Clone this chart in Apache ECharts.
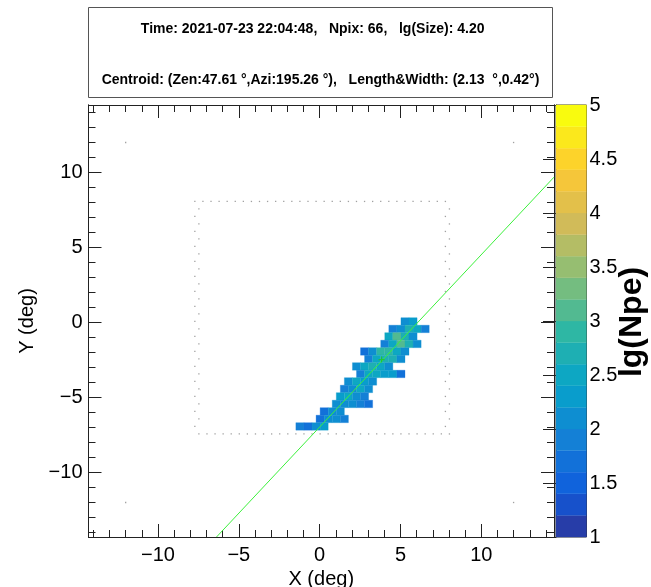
<!DOCTYPE html>
<html><head><meta charset="utf-8">
<script src="https://cdn.jsdelivr.net/npm/echarts@6/dist/echarts.min.js"></script>
<style>html,body{margin:0;padding:0;background:#fff}#c{width:651px;height:587px}</style>
</head><body><div id="c"></div>
<script>
// ---------------- data ----------------
const titleLine1 = 'Time: 2021-07-23 22:04:48,   Npix: 66,   lg(Size): 4.20';
const titleLine2 = 'Centroid: (Zen:47.61 \u00B0,Azi:195.26 \u00B0),   Length&Width: (2.13  \u00B0,0.42\u00B0)';
const xName = 'X (deg)';
const yName = 'Y (deg)';
const zName = 'lg(Npe)';

const xRange = [-14.3, 14.5];
const yRange = [-14.3, 14.5];
const majorTicks = [-10, -5, 0, 5, 10];
const minorTicks = [-14,-13,-12,-11,-10,-9,-8,-7,-6,-5,-4,-3,-2,-1,0,1,2,3,4,5,6,7,8,9,10,11,12,13,14];
const zRange = [1, 5];
const cbLevels = [1.0,1.2,1.4,1.6,1.8,2.0,2.2,2.4,2.6,2.8,3.0,3.2,3.4,3.6,3.8,4.0,4.2,4.4,4.6,4.8];
const cellSize = 0.5;

// fired pixels (deg) and lg(Npe)
const cellX = [
  5.28, 5.78,
  4.53, 5.03, 5.53, 6.03, 6.53,
  4.28, 4.78, 5.28, 5.78,
  4.03, 4.53, 5.03, 5.53, 6.03,
  2.78, 3.28, 3.78, 4.28, 4.78, 5.28,
  3.03, 3.53, 4.03, 4.53, 5.03,
  2.28, 2.78, 3.28, 3.78, 4.28,
  2.53, 3.03, 3.53, 4.03, 4.53, 5.03,
  1.78, 2.28, 2.78, 3.28,
  1.53, 2.03, 2.53, 3.03,
  1.28, 1.78, 2.28, 2.78,
  1.03, 1.53, 2.03, 2.53, 3.03,
  0.28, 0.78, 1.28,
  0.03, 0.53, 1.03, 1.53,
  -1.22, -0.72, -0.22, 0.28
];
const cellY = [
  0.07, 0.07,
  -0.43, -0.43, -0.43, -0.43, -0.43,
  -0.93, -0.93, -0.93, -0.93,
  -1.43, -1.43, -1.43, -1.43, -1.43,
  -1.93, -1.93, -1.93, -1.93, -1.93, -1.93,
  -2.43, -2.43, -2.43, -2.43, -2.43,
  -2.93, -2.93, -2.93, -2.93, -2.93,
  -3.43, -3.43, -3.43, -3.43, -3.43, -3.43,
  -3.93, -3.93, -3.93, -3.93,
  -4.43, -4.43, -4.43, -4.43,
  -4.93, -4.93, -4.93, -4.93,
  -5.43, -5.43, -5.43, -5.43, -5.43,
  -5.93, -5.93, -5.93,
  -6.43, -6.43, -6.43, -6.43,
  -6.93, -6.93, -6.93, -6.93
];
const cellV = [
  2.1, 2.3,
  1.9, 2.1, 2.7, 2.5, 1.9,
  2.5, 3.1, 2.7, 2.1,
  1.9, 2.5, 3.1, 2.7, 2.1,
  1.7, 2.1, 2.9, 2.9, 2.5, 2.1,
  1.9, 2.5, 2.7, 2.7, 2.1,
  2.1, 2.5, 2.7, 2.5, 2.1,
  1.9, 2.5, 2.5, 2.3, 2.3, 1.7,
  2.1, 2.5, 2.3, 2.1,
  1.9, 2.1, 2.5, 2.1,
  2.3, 2.5, 2.1, 1.9,
  2.1, 2.1, 2.1, 1.9, 1.7,
  1.7, 2.1, 2.1,
  1.7, 2.1, 2.1, 1.9,
  1.9, 1.7, 2.1, 2.3
];

// camera outline (empty edge pixels)
const edgeY = [8.07,7.57,7.07,6.57,6.07,5.57,5.07,4.57,4.07,3.57,3.07,2.57,2.07,1.57,1.07,0.57,
  0.07,-0.43,-0.93,-1.43,-1.93,-2.43,-2.93,-3.43,-3.93,-4.43,-4.93,-5.43,-5.93,-6.43,-6.93,-7.43];
const edgeLeftX = [-7.72,-7.47,-7.72,-7.47,-7.72,-7.47,-7.72,-7.47,-7.72,-7.47,-7.72,-7.47,-7.72,-7.47,-7.72,-7.47,
  -7.72,-7.47,-7.72,-7.47,-7.72,-7.47,-7.72,-7.47,-7.72,-7.47,-7.72,-7.47,-7.72,-7.47,-7.72,-7.47];
const edgeRightX = [7.78,8.03,7.78,8.03,7.78,8.03,7.78,8.03,7.78,8.03,7.78,8.03,7.78,8.03,7.78,8.03,
  7.78,8.03,7.78,8.03,7.78,8.03,7.78,8.03,7.78,8.03,7.78,8.03,7.78,8.03,7.78,8.03];
const topRowX = [-7.72,-7.22,-6.72,-6.22,-5.72,-5.22,-4.72,-4.22,-3.72,-3.22,-2.72,-2.22,-1.72,-1.22,-0.72,-0.22,
  0.28,0.78,1.28,1.78,2.28,2.78,3.28,3.78,4.28,4.78,5.28,5.78,6.28,6.78,7.28,7.78];
const bottomRowX = [-7.47,-6.97,-6.47,-5.97,-5.47,-4.97,-4.47,-3.97,-3.47,-2.97,-2.47,-1.97,-1.47,-0.97,-0.47,0.03,
  0.53,1.03,1.53,2.03,2.53,3.03,3.53,4.03,4.53,5.03,5.53,6.03,6.53,7.03,7.53,8.03];
const cornerX = [-12, 12, -12, 12];
const cornerY = [12, 12, -12, -12];

// shower axis line and centroid
const axisLineX = [-6.38, 14.5];
const axisLineY = [-14.3, 9.69];
const centroidX = [3.83];
const centroidY = [-2.47];

// ROOT kBird palette stops
const birdStops = [0.0, 0.125, 0.25, 0.375, 0.5, 0.625, 0.75, 0.875, 1.0];
const birdR = [0.2082, 0.0592, 0.0780, 0.0232, 0.1802, 0.5301, 0.8186, 0.9956, 0.9764];
const birdG = [0.1664, 0.3599, 0.5041, 0.6419, 0.7178, 0.7492, 0.7328, 0.7862, 0.9832];
const birdB = [0.5293, 0.8684, 0.8385, 0.7914, 0.6425, 0.4662, 0.3499, 0.1968, 0.0539];

// ---------------- helpers ----------------
function birdColor(f) {
  let i = 0;
  while (i < birdStops.length - 2 && f > birdStops[i + 1]) i++;
  const t = (f - birdStops[i]) / (birdStops[i + 1] - birdStops[i]);
  const c = a => Math.round(255 * (a[i] + t * (a[i + 1] - a[i])));
  return 'rgb(' + c(birdR) + ',' + c(birdG) + ',' + c(birdB) + ')';
}
const nBands = cbLevels.length;
const bandColors = cbLevels.map((_, i) => birdColor(Math.floor((i + 0.99) * 255 / nBands) / 254));
function colorOf(v) {
  let i = Math.floor((v - zRange[0]) / (zRange[1] - zRange[0]) * nBands);
  i = Math.max(0, Math.min(nBands - 1, i));
  return bandColors[i];
}
const fmt = v => (v < 0 ? '\u2212' + Math.abs(v) : String(v));

const FONT = '"Liberation Sans", Arial, Helvetica, sans-serif';
const AX = '#222';

const cells = cellX.map((x, i) => [x, cellY[i], cellV[i]]);
const edgeDots = [];
topRowX.forEach(x => edgeDots.push([x, edgeY[0]]));
bottomRowX.forEach(x => edgeDots.push([x, edgeY[edgeY.length - 1]]));
for (let r = 1; r < edgeY.length - 1; r++) {
  edgeDots.push([edgeLeftX[r], edgeY[r]]);
  edgeDots.push([edgeRightX[r], edgeY[r]]);
}
cornerX.forEach((x, i) => edgeDots.push([x, cornerY[i]]));

const G = { left: 88.5, top: 105, width: 465.5, height: 432 };
const CB = { left: 556, top: 105, width: 30.5, height: 432 };

function xAx(grid, pos, major, labels, extra) {
  return Object.assign({
    type: 'value', gridIndex: grid, position: pos, min: xRange[0], max: xRange[1],
    axisLine: { show: true, onZero: false, lineStyle: { color: AX, width: 1 } },
    axisTick: { show: true, inside: true, length: major ? 13 : 7, customValues: major ? majorTicks : minorTicks, lineStyle: { color: AX, width: 1 } },
    axisLabel: labels ? { show: true, customValues: majorTicks, formatter: fmt, fontSize: 20, color: '#000', margin: 8, fontFamily: FONT } : { show: false },
    splitLine: { show: false }
  }, extra || {});
}
function yAx(grid, pos, major, labels, extra) {
  return Object.assign({
    type: 'value', gridIndex: grid, position: pos, min: yRange[0], max: yRange[1],
    axisLine: { show: true, onZero: false, lineStyle: { color: AX, width: 1 } },
    axisTick: { show: true, inside: true, length: major ? 13 : 7, customValues: major ? majorTicks : minorTicks, lineStyle: { color: AX, width: 1 } },
    axisLabel: labels ? { show: true, customValues: majorTicks, formatter: fmt, fontSize: 20, color: '#000', margin: 6, fontFamily: FONT } : { show: false },
    splitLine: { show: false }
  }, extra || {});
}

const chart = echarts.init(document.getElementById('c'), null, { renderer: 'canvas' });
chart.setOption({
  animation: false,
  backgroundColor: '#fff',
  grid: [
    Object.assign({ containLabel: false, outerBoundsMode: 'none' }, G),
    Object.assign({ containLabel: false, outerBoundsMode: 'none' }, G),
    Object.assign({ containLabel: false, outerBoundsMode: 'none', show: true, borderColor: '#333', borderWidth: 1, backgroundColor: 'transparent' }, CB)
  ],
  xAxis: [
    xAx(0, 'bottom', true, true, { name: xName, nameLocation: 'middle', nameGap: 26, nameTextStyle: { fontSize: 20, color: '#000', fontFamily: FONT } }),
    xAx(0, 'top', true, false),
    xAx(1, 'bottom', false, false),
    xAx(1, 'top', false, false),
    { type: 'value', gridIndex: 2, min: 0, max: 1, show: false }
  ],
  yAxis: [
    yAx(0, 'left', true, true, { name: yName, nameLocation: 'middle', nameGap: 49, nameRotate: 90, nameTextStyle: { fontSize: 20, color: '#000', fontFamily: FONT } }),
    yAx(0, 'right', true, false),
    yAx(1, 'left', false, false),
    yAx(1, 'right', false, false),
    {
      type: 'value', gridIndex: 2, position: 'right', min: zRange[0], max: zRange[1], interval: 0.5,
      axisLine: { show: true, lineStyle: { color: AX } },
      axisTick: { show: true, inside: true, length: 13, lineStyle: { color: AX } },
      axisLabel: { show: true, fontSize: 20, color: '#000', margin: 3, fontFamily: FONT },
      splitLine: { show: false }
    }
  ],
  graphic: [
    { type: 'rect', shape: { x: 88.5, y: 7.5, width: 464, height: 90 }, style: { fill: '#fff', stroke: '#555', lineWidth: 1 }, z: 1 },
    { type: 'text', x: 312.7, y: 29, style: { text: titleLine1, fill: '#000', font: 'bold 14px ' + FONT, align: 'center', verticalAlign: 'middle', textAlign: 'center', textVerticalAlign: 'middle' }, z: 2 },
    { type: 'text', x: 320.5, y: 80, style: { text: titleLine2, fill: '#000', font: 'bold 14px ' + FONT, align: 'center', verticalAlign: 'middle', textAlign: 'center', textVerticalAlign: 'middle' }, z: 2 },
    { type: 'text', x: 632, y: 322, rotation: Math.PI / 2, style: { text: zName, fill: '#000', font: 'bold 32px ' + FONT, align: 'center', verticalAlign: 'middle', textAlign: 'center', textVerticalAlign: 'middle' }, z: 2 }
  ],
  series: [
    {
      type: 'scatter', xAxisIndex: 0, yAxisIndex: 0, data: edgeDots,
      symbol: 'rect', symbolSize: 1.3, itemStyle: { color: '#8a8a8a' }, silent: true, z: 1
    },
    {
      type: 'custom', xAxisIndex: 0, yAxisIndex: 0, data: cells, z: 2,
      renderItem: function (params, api) {
        const x = api.value(0), y = api.value(1), v = api.value(2);
        const p0 = api.coord([x - cellSize / 2, y + cellSize / 2]);
        const p1 = api.coord([x + cellSize / 2, y - cellSize / 2]);
        return {
          type: 'rect',
          shape: { x: p0[0], y: p0[1], width: p1[0] - p0[0], height: p1[1] - p0[1] },
          style: { fill: colorOf(v), stroke: colorOf(v), lineWidth: 0.3 }
        };
      }
    },
    {
      type: 'line', xAxisIndex: 0, yAxisIndex: 0, data: axisLineX.map((x, i) => [x, axisLineY[i]]),
      symbol: 'none', lineStyle: { color: '#3cf03c', width: 1 }, clip: true, z: 3, silent: true
    },
    {
      type: 'scatter', xAxisIndex: 0, yAxisIndex: 0, data: centroidX.map((x, i) => [x, centroidY[i]]),
      symbol: 'path://M2,0H3V2H5V3H3V5H2V3H0V2H2Z', symbolSize: 6, itemStyle: { color: '#1ec81e' }, z: 4, silent: true
    },
    { type: 'scatter', xAxisIndex: 2, yAxisIndex: 2, data: [] },
    {
      type: 'custom', xAxisIndex: 4, yAxisIndex: 4, data: cbLevels.map((lv, i) => [lv, i]),
      renderItem: function (params, api) {
        const lo = api.value(0);
        const p0 = api.coord([0, lo + (zRange[1] - zRange[0]) / nBands]);
        const p1 = api.coord([1, lo]);
        return {
          type: 'rect',
          shape: { x: p0[0], y: p0[1], width: p1[0] - p0[0], height: p1[1] - p0[1] },
          style: { fill: bandColors[api.value(1)], stroke: bandColors[api.value(1)], lineWidth: 0.3 }
        };
      }
    }
  ]
});
</script></body></html>
